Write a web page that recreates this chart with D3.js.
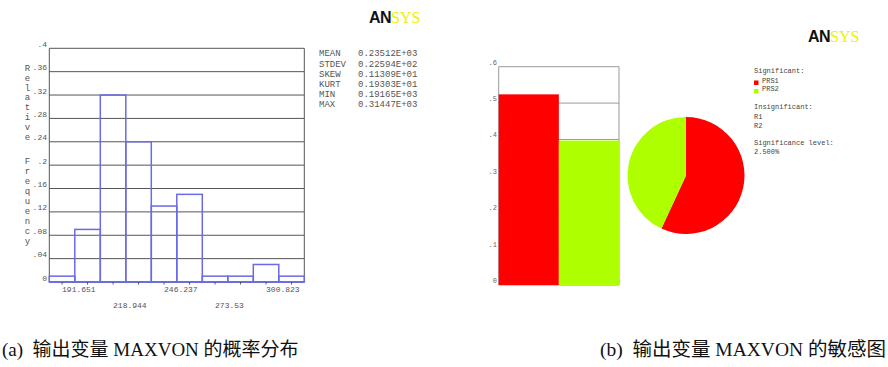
<!DOCTYPE html>
<html>
<head>
<meta charset="utf-8">
<script src="https://cdn.jsdelivr.net/npm/d3@7"></script>
<style>
  html, body { margin: 0; padding: 0; background: #fff; }
  svg { display: block; }
  .mono { font-family: "Liberation Mono", "DejaVu Sans Mono", monospace; }
  .caption { white-space: pre; font-family: "Liberation Serif", "Noto Sans CJK SC", serif; }
</style>
</head>
<body>
<svg id="chart" width="888" height="367"></svg>
<script>
// ---------- Histogram of MAXVON (relative frequency per bin) ----------
const binLow = 184.8275;           // lower edge of the first bin
const binWidth = 13.6465;          // width of each bin
const relFreq = [0.01, 0.09, 0.32, 0.24, 0.13, 0.15, 0.01, 0.01, 0.03, 0.01];
const xTickValues = [191.651, 218.944, 246.237, 273.53, 300.823];
const xTickLabels = ["191.651", "218.944", "246.237", "273.53", "300.823"];
const yTickValues = [0, 0.04, 0.08, 0.12, 0.16, 0.2, 0.24, 0.28, 0.32, 0.36, 0.4];
const yTickLabels = ["0", ".04", ".08", ".12", ".16", ".2", ".24", ".28", ".32", ".36", ".4"];
const yTitleWords = ["Relative", "Frequency"];

// summary statistics
const statNames = ["MEAN", "STDEV", "SKEW", "KURT", "MIN", "MAX"];
const statValues = ["0.23512E+03", "0.22594E+02", "0.11309E+01", "0.19303E+01", "0.19165E+03", "0.31447E+03"];

// ---------- Sensitivity of MAXVON ----------
const params = ["PRS1", "PRS2"];
const sensitivity = [0.524, 0.397];
const paramColors = ["#ff0000", "#aeff00"];
const insignificant = ["R1", "R2"];
const sigLevel = "2.500%";
const sensTickValues = [0, 0.1, 0.2, 0.3, 0.4, 0.5, 0.6];
const sensTickLabels = ["0", ".1", ".2", ".3", ".4", ".5", ".6"];

// captions
const captionA = "(a)  输出变量 MAXVON 的概率分布";
const captionB = "(b)  输出变量 MAXVON 的敏感图";

const svg = d3.select("#chart");

// ===== Panel (a): histogram =====
const hx = d3.scaleLinear().domain([binLow, binLow + binWidth * relFreq.length]).range([49.3, 304.3]);
const hy = d3.scaleLinear().domain([0, 0.4]).range([282, 48.3]);
const gA = svg.append("g");

// horizontal grid lines
gA.selectAll("line.grid").data(yTickValues).join("line")
  .attr("class", "grid")
  .attr("x1", hx.range()[0]).attr("x2", hx.range()[1])
  .attr("y1", d => hy(d)).attr("y2", d => hy(d))
  .attr("stroke", "#555").attr("stroke-width", 1);

// frame sides
gA.append("line").attr("x1", hx.range()[0]).attr("x2", hx.range()[0])
  .attr("y1", hy(0.4)).attr("y2", hy(0)).attr("stroke", "#555");
gA.append("line").attr("x1", hx.range()[1]).attr("x2", hx.range()[1])
  .attr("y1", hy(0.4)).attr("y2", hy(0)).attr("stroke", "#555");

// y tick labels (sit just above their grid line)
gA.selectAll("text.ytick").data(yTickValues).join("text")
  .attr("class", "ytick mono")
  .attr("x", 47).attr("y", d => hy(d) - 1.5)
  .attr("text-anchor", "end")
  .attr("font-size", 8).attr("fill", "#555")
  .text((d, i) => yTickLabels[i]);

// vertical stacked axis title
const titleStarts = [67.7, 161.2];
const titleSteps = [9.9, 9.95];
yTitleWords.forEach((w, wi) => {
  gA.selectAll(null).data(w.split("")).join("text")
    .attr("class", "mono")
    .attr("x", 27.5).attr("y", (c, i) => titleStarts[wi] + i * titleSteps[wi] + 3)
    .attr("text-anchor", "middle")
    .attr("font-size", 9).attr("fill", "#555")
    .text(c => c);
});

// bins
gA.selectAll("rect.bin").data(relFreq).join("rect")
  .attr("class", "bin")
  .attr("x", (d, i) => hx(binLow + i * binWidth))
  .attr("width", hx(binLow + binWidth) - hx(binLow))
  .attr("y", d => hy(d))
  .attr("height", d => hy(0) - hy(d))
  .attr("fill", "none")
  .attr("stroke", "#6a6ae6").attr("stroke-width", 1.5);

// bottom axis line with ticks at bin centres
gA.append("line").attr("x1", hx.range()[0]).attr("x2", hx.range()[1])
  .attr("y1", hy(0)).attr("y2", hy(0)).attr("stroke", "#6a6ae6").attr("stroke-width", 1.5);
gA.selectAll("line.xt").data(relFreq).join("line")
  .attr("class", "xt")
  .attr("x1", (d, i) => hx(binLow + (i + 0.5) * binWidth))
  .attr("x2", (d, i) => hx(binLow + (i + 0.5) * binWidth))
  .attr("y1", hy(0)).attr("y2", hy(0) + 2.5)
  .attr("stroke", "#555").attr("stroke-width", 1);

// x tick labels, alternating rows
gA.selectAll("text.xtick").data(xTickValues).join("text")
  .attr("class", "xtick mono")
  .attr("x", d => hx(d))
  .attr("y", (d, i) => i % 2 === 0 ? 292 : 308)
  .attr("font-size", 8).attr("fill", "#555")
  .text((d, i) => xTickLabels[i]);

// statistics block
gA.selectAll("text.sname").data(statNames).join("text")
  .attr("class", "sname mono")
  .attr("x", 319).attr("y", (d, i) => 56.3 + i * 10.2)
  .attr("font-size", 9).attr("fill", "#555")
  .text(d => d);
gA.selectAll("text.sval").data(statValues).join("text")
  .attr("class", "sval mono")
  .attr("x", 358).attr("y", (d, i) => 56.3 + i * 10.2)
  .attr("font-size", 9).attr("fill", "#555")
  .text(d => d);

// logo
function logo(x, y) {
  const t = svg.append("text").attr("x", x).attr("y", y).attr("font-size", 16);
  t.append("tspan").attr("font-family", "Liberation Sans, Arial, sans-serif")
    .attr("font-weight", "bold").attr("fill", "#111").attr("letter-spacing", -0.5).text("AN");
  t.append("tspan").attr("font-family", "Liberation Serif, serif")
    .attr("fill", "#f0f000").text("SYS");
}
logo(369, 23);
logo(808, 42);

// ===== Panel (b): sensitivity bars =====
const bx = d3.scaleBand().domain(params).range([498.7, 619]).padding(0);
const by = d3.scaleLinear().domain([0, 0.6]).range([285, 66.7]);
const gB = svg.append("g");

gB.selectAll("line.grid").data(sensTickValues).join("line")
  .attr("class", "grid")
  .attr("x1", bx.range()[0]).attr("x2", bx.range()[1])
  .attr("y1", d => by(d)).attr("y2", d => by(d))
  .attr("stroke", "#9a9a9a").attr("stroke-width", 1);
gB.append("line").attr("x1", bx.range()[0]).attr("x2", bx.range()[0])
  .attr("y1", by(0.6)).attr("y2", by(0)).attr("stroke", "#9a9a9a");
gB.append("line").attr("x1", bx.range()[1]).attr("x2", bx.range()[1])
  .attr("y1", by(0.6)).attr("y2", by(0)).attr("stroke", "#9a9a9a");

gB.selectAll("rect.sbar").data(sensitivity).join("rect")
  .attr("class", "sbar")
  .attr("x", (d, i) => bx(params[i]))
  .attr("width", bx.bandwidth())
  .attr("y", d => by(d))
  .attr("height", d => by(0) - by(d))
  .attr("fill", (d, i) => paramColors[i]);

gB.selectAll("text.stick").data(sensTickValues).join("text")
  .attr("class", "stick mono")
  .attr("x", 497).attr("y", d => by(d) - 2)
  .attr("text-anchor", "end")
  .attr("font-size", 7).attr("fill", "#666")
  .text((d, i) => sensTickLabels[i]);

// pie of sensitivities
const pie = d3.pie().sort(null).value(d => d);
const arc = d3.arc().innerRadius(0).outerRadius(58.5);
svg.append("g").attr("transform", "translate(686,175.5)")
  .selectAll("path").data(pie(sensitivity)).join("path")
  .attr("d", arc)
  .attr("fill", (d, i) => paramColors[i]);

// legend
const gL = svg.append("g").attr("class", "mono").attr("font-size", 7).attr("fill", "#444");
gL.append("text").attr("x", 754).attr("y", 73).text("Significant:");
params.forEach((p, i) => {
  gL.append("rect").attr("x", 754).attr("y", 80.5 + i * 8.5).attr("width", 4.5).attr("height", 4.5)
    .attr("fill", paramColors[i]);
  gL.append("text").attr("x", 762).attr("y", 82.5 + i * 8.5).text(p);
});
gL.append("text").attr("x", 754).attr("y", 109).text("Insignificant:");
insignificant.forEach((p, i) => {
  gL.append("text").attr("x", 754).attr("y", 118.5 + i * 9).text(p);
});
gL.append("text").attr("x", 754).attr("y", 144.5).text("Significance level:");
gL.append("text").attr("x", 754).attr("y", 154).text(sigLevel);

// captions
svg.append("text").attr("class", "caption").attr("x", 2).attr("y", 356)
  .attr("font-size", 19).attr("fill", "#111").text(captionA);
svg.append("text").attr("class", "caption").attr("x", 886).attr("y", 356)
  .attr("text-anchor", "end")
  .attr("font-size", 19.5).attr("fill", "#111").text(captionB);
</script>
</body>
</html>
